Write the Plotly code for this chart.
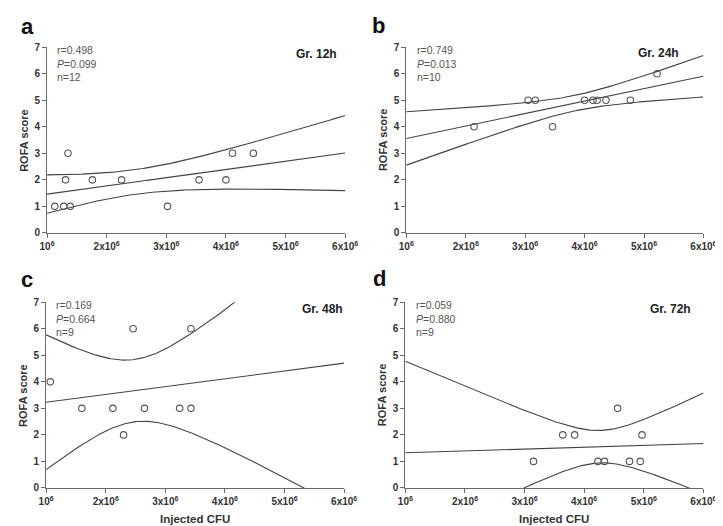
import numpy as np
import plotly.graph_objects as go

# ---- data ----
panel_letters = ["a", "b", "c", "d"]
group_labels = ["Gr. 12h", "Gr. 24h", "Gr. 48h", "Gr. 72h"]
r_values = ["0.498", "0.749", "0.169", "0.059"]
p_values = ["0.099", "0.013", "0.664", "0.880"]
n_values = ["12", "10", "9", "9"]

cfu_12h = [1.13e6, 1.28e6, 1.39e6, 1.31e6, 1.35e6, 1.76e6, 2.25e6, 3.02e6, 3.55e6, 4.00e6, 4.11e6, 4.46e6]
rofa_12h = [1, 1, 1, 2, 3, 2, 2, 1, 2, 2, 3, 3]
cfu_24h = [2.14e6, 3.05e6, 3.17e6, 3.46e6, 4.00e6, 4.14e6, 4.21e6, 4.36e6, 4.77e6, 5.22e6]
rofa_24h = [4, 5, 5, 4, 5, 5, 5, 5, 5, 6]
cfu_48h = [1.07e6, 1.60e6, 2.12e6, 2.30e6, 2.46e6, 2.65e6, 3.24e6, 3.43e6, 3.43e6]
rofa_48h = [4, 3, 3, 2, 6, 3, 3, 3, 6]
cfu_72h = [3.15e6, 3.64e6, 3.84e6, 4.23e6, 4.34e6, 4.56e6, 4.76e6, 4.94e6, 4.97e6]
rofa_72h = [1, 2, 2, 1, 1, 3, 1, 1, 2]

# two-sided 95% t quantiles for df = n-2
t_crit = {10: 2.228, 8: 2.306, 7: 2.365}

x_tickvals = [1e6, 2e6, 3e6, 4e6, 5e6, 6e6]
x_ticktext = ["10<sup>6</sup>", "2x10<sup>6</sup>", "3x10<sup>6</sup>",
              "4x10<sup>6</sup>", "5x10<sup>6</sup>", "6x10<sup>6</sup>"]
y_tickvals = [0, 1, 2, 3, 4, 5, 6, 7]

datasets = [(cfu_12h, rofa_12h), (cfu_24h, rofa_24h), (cfu_48h, rofa_48h), (cfu_72h, rofa_72h)]

# ---- layout geometry ----
W, H = 723, 526
px_x = [(32, 339), (402, 708), (31, 338), (401, 708)]
px_y = [(34, 224), (34, 224), (295, 485), (295, 485)]
letter_pos = [(3, 13), (365, 12), (3, 272), (366, 271)]
group_pos = [(333, 41), (685, 40), (339, 302), (697, 302)]

LINE = "#444444"
AX = "#6a6a6a"
FONT = "Liberation Sans, Arial, sans-serif"

fig = go.Figure()
annotations = []

for i, (xs, ys) in enumerate(datasets):
    ax_suffix = "" if i == 0 else str(i + 1)
    xref = "x" + ax_suffix
    yref = "y" + ax_suffix
    x = np.array(xs) / 1e6
    y = np.array(ys, dtype=float)
    n = len(x)
    xm = x.mean()
    sxx = ((x - xm) ** 2).sum()
    b = ((x - xm) * (y - y.mean())).sum() / sxx
    a = y.mean() - b * xm
    resid = y - (a + b * x)
    s = np.sqrt((resid ** 2).sum() / (n - 2))
    xg = np.linspace(1.0, 6.0, 300)
    fit = a + b * xg
    hw = t_crit[n - 2] * s * np.sqrt(1.0 / n + (xg - xm) ** 2 / sxx)

    for yy in (fit, fit + hw, fit - hw):
        fig.add_trace(go.Scatter(x=xg * 1e6, y=yy, mode="lines",
                                 line=dict(color=LINE, width=1.1),
                                 xaxis=xref, yaxis=yref, showlegend=False,
                                 hoverinfo="skip"))
    fig.add_trace(go.Scatter(x=xs, y=ys, mode="markers",
                             marker=dict(symbol="circle-open", size=6.5,
                                         color="#555555", line=dict(width=1.1)),
                             xaxis=xref, yaxis=yref, showlegend=False,
                             cliponaxis=False))

    x0, x1 = px_x[i]
    y0, y1 = px_y[i]
    xdom = [x0 / W, x1 / W]
    ydom = [1 - y1 / H, 1 - y0 / H]
    axis_common = dict(showgrid=False, zeroline=False, showline=True,
                       linecolor=AX, linewidth=1, ticks="outside", ticklen=4,
                       tickcolor=AX, tickwidth=1,
                       tickfont=dict(family=FONT, size=10, color="#333333"))
    fig.update_layout(**{
        "xaxis" + ax_suffix: dict(domain=xdom, range=[1e6, 6e6], tickvals=x_tickvals,
                                  ticktext=["<b>%s</b>" % t for t in x_ticktext],
                                  anchor=yref, **axis_common),
        "yaxis" + ax_suffix: dict(domain=ydom, range=[0, 7], tickvals=y_tickvals,
                                  ticktext=["<b>%d</b>" % v for v in y_tickvals],
                                  anchor=xref, **axis_common),
    })

    # panel letter
    lx, ly = letter_pos[i]
    annotations.append(dict(x=lx / W, y=1 - ly / H,
                            xref="paper", yref="paper", text="<b>%s</b>" % panel_letters[i],
                            showarrow=False, xanchor="left", yanchor="middle",
                            font=dict(family=FONT, size=22, color="#111111")))
    # stats text (single block)
    stat_x = (x0 + 8) / W if i % 2 == 0 else (x0 + 9) / W
    stats = "r=%s<br><i>P</i>=%s<br>n=%s" % (r_values[i], p_values[i], n_values[i])
    annotations.append(dict(x=stat_x, y=1 - (y0 - 5) / H, xref="paper", yref="paper",
                            text=stats, showarrow=False, xanchor="left", yanchor="top",
                            align="left",
                            font=dict(family=FONT, size=10.5, color="#555555")))
    # group label
    gx, gy = group_pos[i]
    annotations.append(dict(x=gx / W, y=1 - gy / H, xref="paper", yref="paper",
                            text="<b>%s</b>" % group_labels[i], showarrow=False,
                            xanchor="right", yanchor="middle",
                            font=dict(family=FONT, size=12, color="#222222")))
    # y title
    annotations.append(dict(x=(x0 - 24) / W, y=1 - ((y0 + y1) / 2) / H, xref="paper", yref="paper",
                            text="<b>ROFA score</b>", showarrow=False, textangle=-90,
                            xanchor="center", yanchor="middle",
                            font=dict(family=FONT, size=11, color="#333333")))
    if i >= 2:
        annotations.append(dict(x=((x0 + x1) / 2) / W, y=1 - 517 / H, xref="paper", yref="paper",
                                text="<b>Injected CFU</b>", showarrow=False,
                                xanchor="center", yanchor="middle",
                                font=dict(family=FONT, size=11.5, color="#333333")))

fig.update_layout(width=W, height=H, margin=dict(l=0, r=0, t=0, b=0),
                  paper_bgcolor="white", plot_bgcolor="white",
                  annotations=annotations, font=dict(family=FONT))

fig.write_html("out.html")
